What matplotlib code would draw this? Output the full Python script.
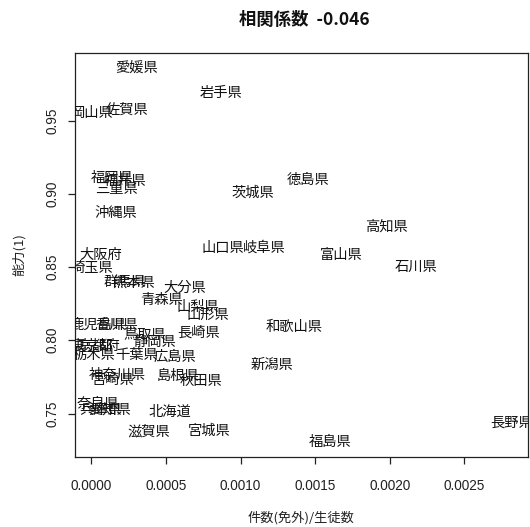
import matplotlib
matplotlib.use("Agg")
import matplotlib.pyplot as plt
import numpy as np

plt.rcParams['font.family'] = ['Noto Sans CJK JP', 'DejaVu Sans']

# prefecture, cases(excl.)/students, ability(1)
prefectures = [
    "愛媛県", "岩手県", "岡山県", "佐賀県", "福岡県", "福井県", "三重県", "沖縄県",
    "茨城県", "徳島県", "高知県", "富山県", "石川県", "山口県", "岐阜県", "大分県",
    "青森県", "山梨県", "山形県", "和歌山県", "新潟県", "長崎県", "大阪府", "埼玉県",
    "群馬県", "熊本県", "鹿児島県", "香川県", "鳥取県", "静岡県", "東京都", "京都府",
    "栃木県", "千葉県", "広島県", "神奈川県", "宮崎県", "島根県", "秋田県", "奈良県",
    "兵庫県", "愛知県", "北海道", "滋賀県", "宮城県", "福島県", "長野県",
]
rate = [
    0.000301, 0.000871, 0.000007, 0.000241, 0.000141, 0.000228, 0.000167, 0.000167,
    0.001085, 0.001453, 0.001975, 0.001674, 0.002176, 0.000884, 0.001159, 0.000629,
    0.000469, 0.000717, 0.000783, 0.001359, 0.001212, 0.000717, 0.000060, 0.000007,
    0.000228, 0.000281, 0.000047, 0.000174, 0.000355, 0.000422, 0.000000, 0.000047,
    0.000020, 0.000301, 0.000563, 0.000174, 0.000147, 0.000583, 0.000737, 0.000047,
    0.000060, 0.000121, 0.000529, 0.000388, 0.000790, 0.001600, 0.002813,
]
ability = [
    0.9860, 0.9689, 0.9553, 0.9573, 0.9109, 0.9088, 0.9033, 0.8870,
    0.9006, 0.9095, 0.8774, 0.8583, 0.8501, 0.8630, 0.8630, 0.8357,
    0.8275, 0.8227, 0.8173, 0.8091, 0.7831, 0.8050, 0.8583, 0.8494,
    0.8398, 0.8392, 0.8105, 0.8098, 0.8036, 0.7988, 0.7961, 0.7961,
    0.7900, 0.7900, 0.7886, 0.7763, 0.7729, 0.7756, 0.7722, 0.7572,
    0.7524, 0.7517, 0.7510, 0.7374, 0.7380, 0.7305, 0.7435,
]
corr_text = "-0.046"

x_ticks = [0.0, 0.0005, 0.0010, 0.0015, 0.0020, 0.0025]
y_ticks = [0.75, 0.80, 0.85, 0.90, 0.95]

fig = plt.figure(figsize=(5.30, 5.27), dpi=100)
ax = fig.add_axes([0.1406, 0.1328, 0.8556, 0.7666])

x = np.array(rate)
y = np.array(ability)

for name, xv, yv in zip(prefectures, x, y):
    ax.text(xv, yv, name, ha='center', va='center', fontsize=10.3,
            color='#111111', clip_on=True)

# R-style 4% padding around the data range
def padded(v):
    lo, hi = v.min(), v.max()
    r = hi - lo
    return lo - 0.04 * r, hi + 0.04 * r

ax.set_xlim(*padded(x))
ax.set_ylim(*padded(y))

ax.set_xticks(x_ticks)
ax.set_xticklabels([f"{t:.4f}" for t in x_ticks])
ax.set_yticks(y_ticks)
ax.set_yticklabels([f"{t:.2f}" for t in y_ticks], rotation=90, va='center')

for lab in ax.get_xticklabels() + ax.get_yticklabels():
    lab.set_family(['Liberation Sans', 'DejaVu Sans'])
    lab.set_fontsize(9.8)
    lab.set_color('#222222')

ax.tick_params(axis='x', length=5, width=0.9, pad=10.5, color='#222222')
ax.tick_params(axis='y', length=5, width=0.9, pad=6, color='#222222')
for sp in ax.spines.values():
    sp.set_linewidth(0.9)
    sp.set_color('#222222')

ax.set_xlabel("件数(免外)/生徒数", fontsize=9.5, color='#222222', labelpad=13)
ax.set_ylabel("能力(1)", fontsize=9.5, color='#222222', labelpad=14)

fig.text(0.575, 0.962, "相関係数  " + corr_text, ha='center', va='center',
         fontsize=12.5, fontweight='bold', color='#111111')

fig.savefig("out.png", dpi=100)
